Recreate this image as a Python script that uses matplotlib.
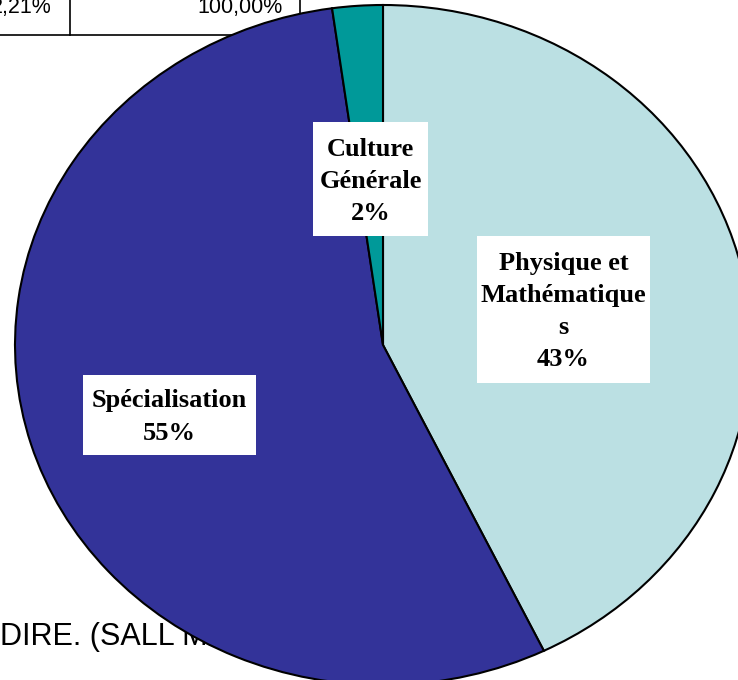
import matplotlib.pyplot as plt
from matplotlib.patches import Rectangle

# données du graphique
labels = ['Physique et\nMathématique\ns', 'Spécialisation', 'Culture\nGénérale']
values = [42.80, 54.99, 2.21]
colors = ['#BBE0E3', '#333399', '#009999']
table_cells = ['2,21%', '100,00%']
caption = 'DIRE. (SALL M'

W, H = 738, 680
fig = plt.figure(figsize=(W / 100, H / 100), dpi=100)

# fond : morceau de tableau et texte cachés derrière le camembert
bg = fig.add_axes([0, 0, 1, 1], zorder=0)
bg.set_xlim(0, W)
bg.set_ylim(H, 0)
bg.axis('off')
bg.plot([0, 300], [35, 35], color='black', lw=1.2)
bg.plot([70, 70], [0, 35], color='black', lw=1.2)
bg.plot([300, 300], [0, 35], color='black', lw=1.2)
bg.text(52, 13, table_cells[0], ha='right', va='baseline', fontsize=15.5,
        family='Liberation Sans')
bg.text(283, 13, table_cells[1], ha='right', va='baseline', fontsize=15.5,
        family='Liberation Sans')
bg.text(0, 645, caption, ha='left', va='baseline', fontsize=22,
        family='Liberation Sans')

# camembert (ellipse : l'axe n'a pas un aspect égal)
ax = fig.add_axes([15 / W, -5 / H, 736 / W, 680 / H], zorder=1)
ax.patch.set_visible(False)
ax.pie(values, colors=colors, startangle=90, counterclock=False, radius=1,
       wedgeprops=dict(edgecolor='black', linewidth=1.5))
ax.set_xlim(-1, 1)
ax.set_ylim(-1, 1)
ax.set_aspect('auto')
ax.axis('off')

# étiquettes dans des cadres blancs
ov = fig.add_axes([0, 0, 1, 1], zorder=2)
ov.patch.set_visible(False)
ov.set_xlim(0, W)
ov.set_ylim(H, 0)
ov.axis('off')
boxes = [(477, 236, 173, 147), (83, 375, 173, 80), (313, 122, 115, 114)]
for lab, v, (x, y, w, h) in zip(labels, values, boxes):
    ov.add_patch(Rectangle((x, y), w, h, facecolor='white', edgecolor='none'))
    ov.text(x + w / 2, y + h / 2 + 2, f'{lab}\n{v:.0f}%', ha='center',
            va='center', fontsize=19, fontweight='bold',
            family='Liberation Serif', linespacing=1.5)

fig.savefig('out.png', dpi=100)
